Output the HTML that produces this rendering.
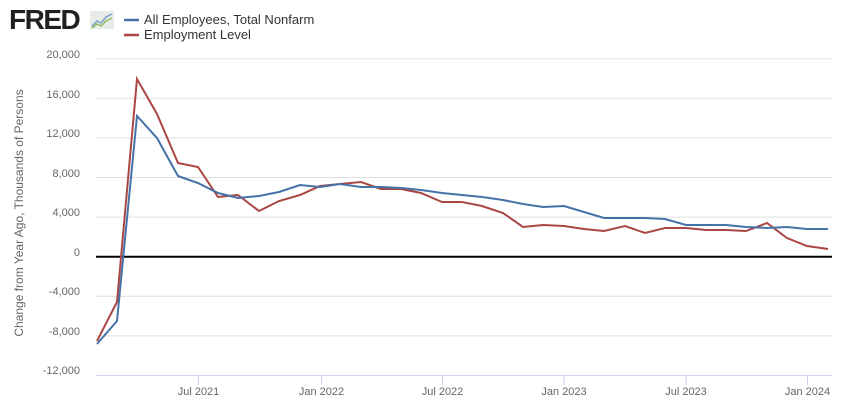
<!DOCTYPE html>
<html><head><meta charset="utf-8"><style>
body{margin:0;background:#fff;font-family:"Liberation Sans",sans-serif}
</style></head><body>
<svg width="850" height="409" xmlns="http://www.w3.org/2000/svg" font-family="Liberation Sans, sans-serif">
<rect width="850" height="409" fill="#fff"/>
<text x="9" y="29" font-size="28" font-weight="bold" fill="#231f20" letter-spacing="-1.5">FRED</text>
<rect x="90" y="11" width="24" height="18" fill="#e8ece8"/>
<polyline points="92,26 97,21 101,23 106,17 112,14" fill="none" stroke="#7aa0c8" stroke-width="1.5"/>
<polyline points="92,28 97,24 101,26 106,21 112,18" fill="none" stroke="#8cb860" stroke-width="1.5"/>
<line x1="124" y1="20" x2="139" y2="20" stroke="#4572a7" stroke-width="2.5"/>
<line x1="124" y1="35" x2="139" y2="35" stroke="#aa4643" stroke-width="2.5"/>
<text x="144" y="24" font-size="13" fill="#333">All Employees, Total Nonfarm</text>
<text x="144" y="39" font-size="13" fill="#333">Employment Level</text>
<g stroke="#e0e0e0" stroke-width="1">
<line x1="96" y1="58.7" x2="832" y2="58.7"/><line x1="96" y1="98.3" x2="832" y2="98.3"/>
<line x1="96" y1="137.9" x2="832" y2="137.9"/><line x1="96" y1="177.5" x2="832" y2="177.5"/>
<line x1="96" y1="217.1" x2="832" y2="217.1"/><line x1="96" y1="296.3" x2="832" y2="296.3"/>
<line x1="96" y1="335.9" x2="832" y2="335.9"/>
</g>
<line x1="96" y1="375.5" x2="832" y2="375.5" stroke="#ccd6eb"/>
<g stroke="#ccd6eb"><line x1="198.5" y1="375.5" x2="198.5" y2="385"/><line x1="321.5" y1="375.5" x2="321.5" y2="385"/><line x1="442.5" y1="375.5" x2="442.5" y2="385"/><line x1="564" y1="375.5" x2="564" y2="385"/><line x1="686" y1="375.5" x2="686" y2="385"/><line x1="807.5" y1="375.5" x2="807.5" y2="385"/></g>
<g font-size="11" fill="#666" text-anchor="end">
<text x="80" y="58">20,000</text><text x="80" y="98">16,000</text><text x="80" y="137">12,000</text>
<text x="80" y="177">8,000</text><text x="80" y="216">4,000</text><text x="80" y="256">0</text>
<text x="80" y="295">-4,000</text><text x="80" y="335">-8,000</text><text x="80" y="374">-12,000</text>
</g>
<g font-size="11" fill="#666" text-anchor="middle">
<text x="198.5" y="395">Jul 2021</text><text x="321.5" y="395">Jan 2022</text><text x="442.5" y="395">Jul 2022</text>
<text x="564" y="395">Jan 2023</text><text x="686" y="395">Jul 2023</text><text x="807.5" y="395">Jan 2024</text>
</g>
<text transform="translate(23,213) rotate(-90)" font-size="12" fill="#666" text-anchor="middle">Change from Year Ago, Thousands of Persons</text>
<line x1="96" y1="256.7" x2="832" y2="256.7" stroke="#000" stroke-width="2"/>
<polyline fill="none" stroke="#aa4643" stroke-width="2" points="97,341 117,302 137,79 157,114 178,163 198,167 218,197 238,195 259,211 279,201 300,195 320,186 340,184 361,182 381,189 401,189 421,193 442,202 462,202 482,206 503,213 523,227 543,225 564,226 584,229 604,231 625,226 645,233 665,228 686,228 706,230 726,230 746,231 767,223 787,238 807,246 828,249"/>
<polyline fill="none" stroke="#4572a7" stroke-width="2" points="97,344 117,321 137,116 157,138 178,176 198,183 218,193 238,198 259,196 279,192 300,185 320,187 340,184 361,187 381,187 401,188 421,190 442,193 462,195 482,197 503,200 523,204 543,207 564,206 584,212 604,218 625,218 645,218 665,219 686,225 706,225 726,225 746,227 767,228 787,227 807,229 828,229"/>
</svg>
</body></html>
